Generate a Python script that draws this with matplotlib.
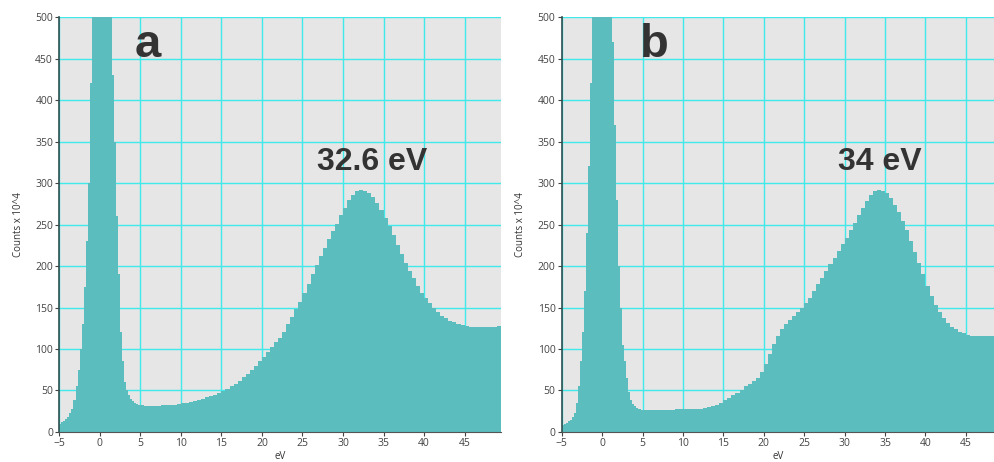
import numpy as np
import matplotlib
matplotlib.use("Agg")
import matplotlib.pyplot as plt

# energy bin edges: 0.25 eV steps around the zero-loss peak, 0.5 eV after
edges = np.concatenate([np.arange(-5, 5, 0.25), np.arange(5, 50.01, 0.5)])

# counts x 10^4, panel a (plasmon at 32.6 eV)
counts_a = [
    10, 12, 13, 16, 18, 23, 28, 38, 55, 75, 100, 130, 175, 230, 300, 420,
    600, 900, 1300, 1700, 1800, 1600, 1200, 900, 700, 560, 430, 350, 260, 190,
    120, 85, 60, 50, 44, 40, 37, 35, 34, 33,
    32, 31, 31, 31, 31, 32, 32, 33, 33, 34,
    35, 35, 36, 37, 39, 40, 42, 43, 45, 47,
    49, 52, 55, 58, 62, 66, 70, 75, 80, 86,
    90, 96, 102, 108, 113, 121, 130, 139, 148, 157,
    167, 178, 190, 201, 212, 222, 232, 242, 251, 261,
    270, 279, 285, 290, 292, 291, 288, 283, 276, 268,
    258, 248, 237, 225, 214, 204, 194, 185, 176, 168,
    161, 155, 149, 144, 140, 137, 134, 132, 130, 129,
    128, 127, 126, 126, 126, 126, 127, 127, 128, 130,
]

# counts x 10^4, panel b (plasmon at 34 eV)
counts_b = [
    9, 10, 11, 13, 15, 18, 23, 35, 55, 85, 120, 170, 240, 320, 420, 550,
    800, 1200, 1600, 1800, 1700, 1400, 1000, 800, 700, 470, 370, 280, 200, 150,
    105, 85, 65, 48, 38, 34, 31, 29, 28, 27,
    27, 26, 26, 26, 26, 26, 27, 27, 28, 28,
    28, 28, 28, 28, 28, 29, 30, 31, 33, 35,
    38, 41, 44, 47, 51, 55, 58, 61, 65, 72,
    82, 94, 106, 116, 124, 130, 135, 140, 145, 150,
    155, 162, 170, 178, 186, 194, 202, 210, 218, 226,
    234, 243, 252, 261, 270, 278, 285, 290, 292, 291,
    288, 282, 274, 265, 254, 243, 230, 217, 204, 190,
    176, 164, 153, 144, 137, 131, 127, 124, 121, 119,
    117, 116, 116, 116, 116, 116, 116, 116, 116, 116,
]

panels = [
    ("a", "32.6 eV", counts_a, [0.0596, 0.065, 0.444, 0.898], 49.5, 5.9, 33.6),
    ("b", "34 eV", counts_b, [0.5645, 0.065, 0.4355, 0.898], 48.6, 6.5, 34.4),
]

fig = plt.figure(figsize=(9.95, 4.62), dpi=100)
plt.rcParams['font.family'] = ['Open Sans', 'DejaVu Sans']

for letter, peak_txt, counts, pos, xmax, lx, px in panels:
    ax = fig.add_axes(pos)
    ax.set_facecolor("#e6e6e6")
    ax.stairs(counts, edges, fill=True, color="#5bbdbd", zorder=2)
    ax.set_xlim(-5, xmax)
    ax.set_ylim(0, 500)
    ax.set_xticks(np.arange(-5, 50, 5))
    ax.set_yticks(np.arange(0, 501, 50))
    ax.grid(True, color="#40eaea", linewidth=1.0, zorder=1)
    ax.set_axisbelow(True)
    for s in ["top", "right"]:
        ax.spines[s].set_visible(False)
    ax.spines["left"].set_color("#2f4f4f")
    ax.spines["left"].set_linewidth(1.2)
    ax.spines["bottom"].set_color("#555555")
    ax.tick_params(labelsize=7.5, colors="#444444", length=3, pad=1.5)
    ax.set_xlabel("eV", fontsize=7, color="#333333", labelpad=1)
    ax.set_ylabel("Counts x 10^4", fontsize=7, color="#333333", labelpad=8)
    ax.text(lx, 466, letter, fontsize=34, fontweight="bold", color="#333333",
            family="Liberation Sans", ha="center", va="center", zorder=3)
    ax.text(px, 325, peak_txt, fontsize=23, fontweight="bold", color="#333333",
            family="Liberation Sans", ha="center", va="center", zorder=3)

fig.savefig("out.png", dpi=100)
